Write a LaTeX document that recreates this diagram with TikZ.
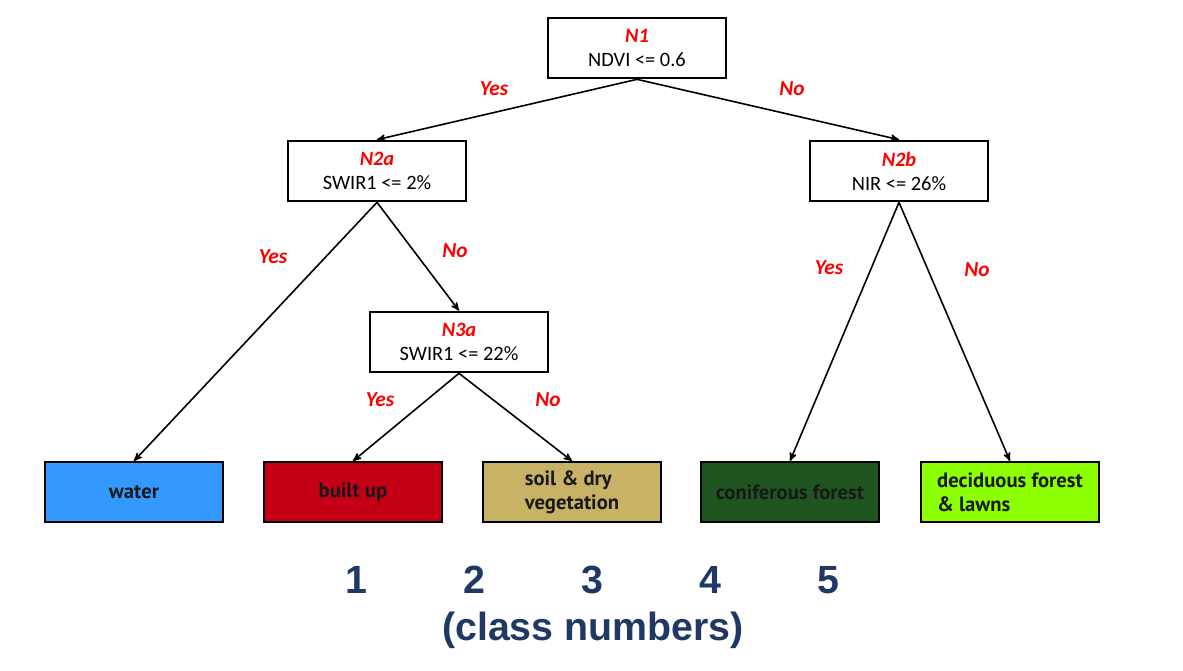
\documentclass[tikz,border=0pt]{standalone}
\usepackage{fontspec}
\setmainfont{Carlito}
\newfontfamily\leaffont{PT Sans}
\newfontfamily\classfont{Liberation Sans}
\usetikzlibrary{positioning, arrows}
\definecolor{labelred}{RGB}{255,0,0}
\definecolor{waterblue}{RGB}{51,153,255}
\definecolor{builtred}{RGB}{197,0,22}
\definecolor{soiltan}{RGB}{200,178,102}
\definecolor{conifgreen}{RGB}{31,86,31}
\definecolor{decidgreen}{RGB}{140,255,0}
\definecolor{classblue}{RGB}{31,56,100}
\tikzset{
>=stealth', % arrow heads like the reference
split/.style={draw, line width=1.5pt, fill=white, minimum width=134pt, minimum height=45.5pt, inner sep=0pt, align=center, font=\fontsize{15.3}{18}\selectfont}, % decision nodes
leaf/.style={draw, line width=1.5pt, minimum width=134pt, minimum height=45pt, inner sep=0pt, align=left, text=black!90, font=\leaffont\bfseries\fontsize{15.5}{18}\selectfont}, % class boxes
branch/.style={->, line width=1.2pt}, % edges of the tree
answer/.style={text=labelred, font=\bfseries\itshape\fontsize{16}{18}\selectfont}, % Yes / No
classnum/.style={text=classblue, font=\classfont\bfseries\fontsize{29.5}{32}\selectfont}
}
\newcommand{\nodename}[1]{\textcolor{labelred}{\bfseries\itshape #1}}
\begin{document}
\begin{tikzpicture}[x=0.75pt, y=-0.75pt]
    \useasboundingbox (0,0) rectangle (1183,671);
    % decision nodes
    \node[split] (n1) at (637,48) {\nodename{N1}\\NDVI <= 0.6};
    \node[split] (n2a) at (377,171) {\nodename{N2a}\\SWIR1 <= 2\%};
    \node[split] (n2b) at (899,171) {\nodename{N2b}\\NIR <= 26\%};
    \node[split] (n3a) at (459,342) {\nodename{N3a}\\SWIR1 <= 22\%};
    % classes
    \node[leaf, fill=waterblue] (water) at (134,492) {water};
    \node[leaf, fill=builtred] (builtup) at (353,492) {built up};
    \node[leaf, fill=soiltan] (soil) at (572,492) {soil \& dry\\vegetation};
    \node[leaf, fill=conifgreen] (conif) at (790,492) {coniferous forest};
    \node[leaf, fill=decidgreen] (decid) at (1010,492) {deciduous forest\\\& lawns};
    % edges
    \draw[branch] (n1.south) -- (n2a.north);
    \draw[branch] (n1.south) -- (n2b.north);
    \draw[branch] (n2a.south) -- (water.north);
    \draw[branch] (n2a.south) -- (n3a.north);
    \draw[branch] (n3a.south) -- (builtup.north);
    \draw[branch] (n3a.south) -- (soil.north);
    \draw[branch] (n2b.south) -- (conif.north);
    \draw[branch] (n2b.south) -- (decid.north);
    % edge labels
    \node[answer] (y1) at (494,89) {Yes};
    \node[answer] (no1) at (792,89) {No};
    \node[answer] (y2a) at (273,257) {Yes};
    \node[answer] (no2a) at (455,251) {No};
    \node[answer] (y3a) at (380,400) {Yes};
    \node[answer] (no3a) at (548,400) {No};
    \node[answer] (y2b) at (829,268) {Yes};
    \node[answer] (no2b) at (977,270) {No};
    % class numbers
    \node[classnum] (c1) at (356,580) {1};
    \node[classnum] (c2) at (474,580) {2};
    \node[classnum] (c3) at (592,580) {3};
    \node[classnum] (c4) at (710,580) {4};
    \node[classnum] (c5) at (828,580) {5};
    \node[classnum] (cls) at (593,630) {(class numbers)};
\end{tikzpicture}
\end{document}
